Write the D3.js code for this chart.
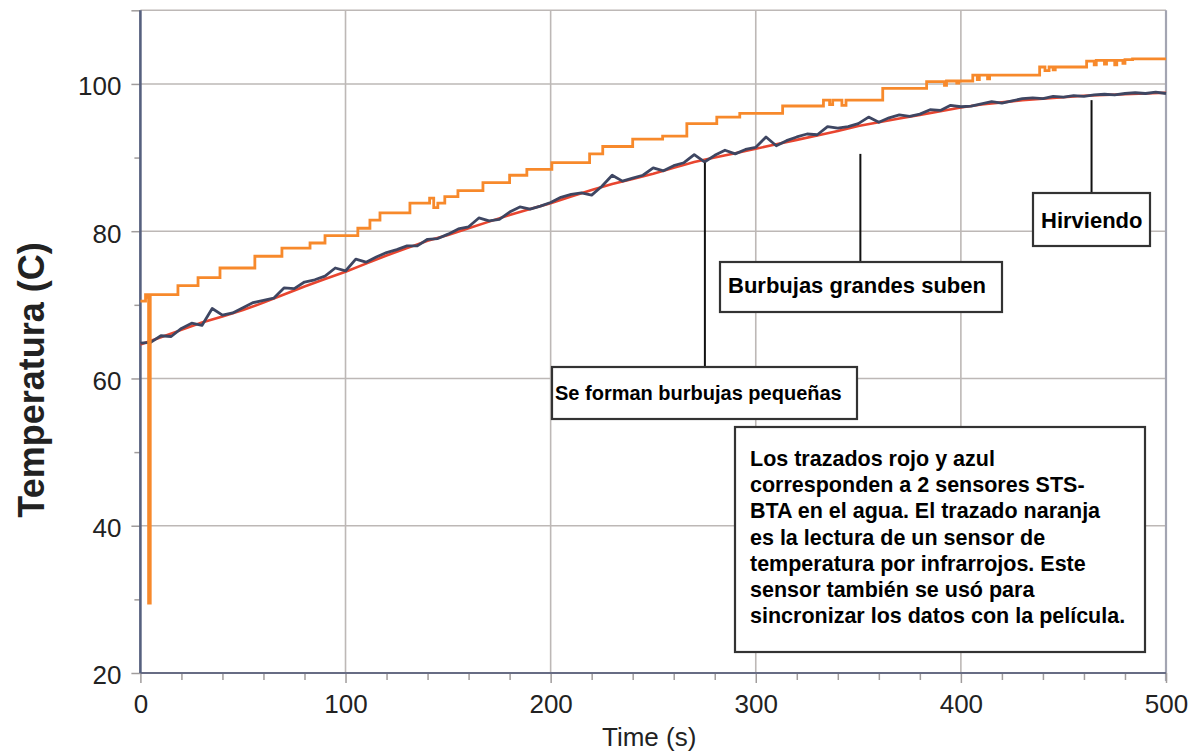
<!DOCTYPE html>
<html>
<head>
<meta charset="utf-8">
<script src="https://cdn.jsdelivr.net/npm/d3@7"></script>
<style>
  body { margin: 0; background: #fff; }
  svg text { font-family: "Liberation Sans", Arial, sans-serif; }
</style>
</head>
<body>
<script>
// blue trace (STS-BTA sensor 1), sampled every 5 s
var blueTime = [0, 5, 10, 15, 20, 25, 30, 35, 40, 45,
  50, 55, 60, 65, 70, 75, 80, 85, 90, 95,
  100, 105, 110, 115, 120, 125, 130, 135, 140, 145,
  150, 155, 160, 165, 170, 175, 180, 185, 190, 195,
  200, 205, 210, 215, 220, 225, 230, 235, 240, 245,
  250, 255, 260, 265, 270, 275, 280, 285, 290, 295,
  300, 305, 310, 315, 320, 325, 330, 335, 340, 345,
  350, 355, 360, 365, 370, 375, 380, 385, 390, 395,
  400, 405, 410, 415, 420, 425, 430, 435, 440, 445,
  450, 455, 460, 465, 470, 475, 480, 485, 490, 495, 500];
var blueTemp = [64.8, 64.9, 65.8, 65.7, 66.8, 67.5, 67.2, 69.5, 68.6, 68.9,
  69.6, 70.3, 70.6, 70.9, 72.3, 72.2, 73.1, 73.4, 73.9, 75.0,
  74.6, 76.2, 75.8, 76.5, 77.1, 77.5, 78.0, 78.0, 78.9, 79.0,
  79.6, 80.3, 80.6, 81.8, 81.4, 81.6, 82.6, 83.3, 83.0, 83.4,
  83.9, 84.6, 85.0, 85.2, 84.9, 86.1, 87.6, 86.8, 87.2, 87.6,
  88.6, 88.2, 88.9, 89.3, 90.4, 89.4, 90.3, 91.0, 90.5, 91.1,
  91.4, 92.8, 91.6, 92.3, 92.8, 93.2, 93.1, 94.2, 94.0, 94.2,
  94.6, 95.5, 94.8, 95.4, 95.8, 95.6, 95.9, 96.5, 96.4, 97.1,
  96.9, 97.0, 97.3, 97.6, 97.4, 97.7, 98.0, 98.1, 98.0, 98.3,
  98.2, 98.4, 98.3, 98.5, 98.6, 98.5, 98.7, 98.8, 98.7, 98.9, 98.7];

// red trace (STS-BTA sensor 2), every 10 s
var redTime = [0, 10, 20, 30, 40, 50, 60, 70, 80, 90,
  100, 110, 120, 130, 140, 150, 160, 170, 180, 190,
  200, 210, 220, 230, 240, 250, 260, 270, 280, 290,
  300, 310, 320, 330, 340, 350, 360, 370, 380, 390,
  400, 410, 420, 430, 440, 450, 460, 470, 480, 490, 500];
var redTemp = [64.6, 65.6, 66.6, 67.6, 68.4, 69.3, 70.3, 71.4, 72.5, 73.5,
  74.5, 75.6, 76.7, 77.7, 78.7, 79.5, 80.4, 81.3, 82.2, 83.0,
  83.8, 84.7, 85.6, 86.4, 87.1, 87.8, 88.6, 89.4, 90.0, 90.6,
  91.2, 91.8, 92.4, 93.0, 93.6, 94.3, 94.8, 95.3, 95.8, 96.3,
  96.8, 97.2, 97.5, 97.8, 98.0, 98.2, 98.4, 98.5, 98.6, 98.7, 98.8];

// orange trace (infrared sensor), step changes
var orangeTime = [0, 2.5, 3.5, 4.0, 4.8, 18.3, 28.1, 38.8, 55.8, 69,
  82.7, 90, 106, 111.9, 116.8, 131.4, 141, 143, 145, 148.4,
  154.8, 167, 180, 188.4, 200.6, 219, 225.4, 240, 254.6, 266.4,
  281, 292.2, 313.1, 333, 336, 337.5, 342, 344, 361.9, 383.3,
  392, 393, 398, 399, 405.8, 408, 409, 413, 414, 438.4,
  441, 443, 445, 446, 461.3, 465, 466, 470, 471, 475,
  476, 479, 480, 483.7, 500];
var orangeTemp = [70.5, 71.4, 71.0, 29.5, 71.4, 72.6, 73.7, 75.0, 76.6, 77.7,
  78.4, 79.4, 80.4, 81.5, 82.5, 83.8, 84.5, 83.2, 83.8, 84.7,
  85.5, 86.6, 87.6, 88.4, 89.3, 90.5, 91.5, 92.5, 92.9, 94.6,
  95.5, 96.0, 97.0, 97.8, 97.2, 97.8, 97.1, 97.8, 99.4, 100.3,
  99.8, 100.4, 100.1, 100.4, 101.2, 100.6, 101.2, 100.7, 101.2, 102.3,
  101.8, 102.3, 101.9, 102.3, 103.1, 102.6, 103.2, 102.7, 103.2, 102.6,
  103.2, 102.8, 103.3, 103.4, 103.4];

var xMajor = [0, 100, 200, 300, 400, 500];
var xMinor = [20, 40, 60, 80, 120, 140, 160, 180, 220, 240, 260, 280,
  320, 340, 360, 380, 420, 440, 460, 480];
var yMajor = [20, 40, 60, 80, 100, 110];
var yMinor = [30, 50, 70, 90];

var noteLines = ["Los trazados rojo y azul",
  "corresponden a 2 sensores STS-",
  "BTA en el agua. El trazado naranja",
  "es la lectura de un sensor de",
  "temperatura por infrarrojos. Este",
  "sensor también se usó para",
  "sincronizar los datos con la película."];

var svgWidth = 1198;
var svgHeight = 752;
var plotLeft = 140.4, plotRight = 1166, plotTop = 10.3, plotBottom = 673;

var svg = d3.select("body")
    .append("svg")
    .attr("width", svgWidth)
    .attr("height", svgHeight);

var xScale = d3.scaleLinear().domain([0, 500]).range([plotLeft, plotRight]);
var yScale = d3.scaleLinear().domain([20, 110]).range([plotBottom, plotTop]);

// grid
var grid = svg.append("g");
grid.selectAll(".vg")
    .data(xMajor.slice(1, 5))
    .enter().append("line")
    .attr("x1", d => xScale(d)).attr("x2", d => xScale(d))
    .attr("y1", plotTop).attr("y2", plotBottom)
    .attr("stroke", "#bdb8b6").attr("stroke-width", 1.6);
grid.selectAll(".hg")
    .data(yMajor.slice(1))
    .enter().append("line")
    .attr("x1", plotLeft).attr("x2", plotRight)
    .attr("y1", d => yScale(d)).attr("y2", d => yScale(d))
    .attr("stroke", "#bdb8b6").attr("stroke-width", 1.6);
// right frame
grid.append("line")
    .attr("x1", xScale(500)).attr("x2", xScale(500))
    .attr("y1", plotTop).attr("y2", plotBottom + 8)
    .attr("stroke", "#a3a5b2").attr("stroke-width", 2.2);

// axes
function styleAxis(g) {
    g.select(".domain").remove();
    g.selectAll(".tick line").attr("stroke", "#a09c9c").attr("stroke-width", 1.5);
    g.selectAll("text").attr("fill", "#222").attr("font-size", "26px")
        .attr("font-family", "'Liberation Sans', Arial, sans-serif");
}

svg.append("g")
    .attr("transform", `translate(0, ${plotBottom})`)
    .call(d3.axisBottom(xScale).tickValues(xMinor).tickSize(7).tickFormat(""))
    .call(styleAxis);
svg.append("g")
    .attr("transform", `translate(0, ${plotBottom})`)
    .call(d3.axisBottom(xScale).tickValues(xMajor).tickSize(10).tickPadding(0))
    .call(styleAxis)
    .call(g => g.selectAll("text").attr("y", 40).attr("dy", null));

svg.append("g")
    .attr("transform", `translate(${plotLeft}, 0)`)
    .call(d3.axisLeft(yScale).tickValues(yMinor).tickSize(6).tickFormat(""))
    .call(styleAxis);
svg.append("g")
    .attr("transform", `translate(${plotLeft}, 0)`)
    .call(d3.axisLeft(yScale).tickValues(yMajor).tickSize(9)
        .tickFormat(d => d === 110 ? "" : d))
    .call(styleAxis)
    .call(g => g.selectAll("text").attr("x", -19).attr("dy", "0.42em"));

// axis lines
svg.append("line")
    .attr("x1", plotLeft).attr("x2", plotRight)
    .attr("y1", plotBottom).attr("y2", plotBottom)
    .attr("stroke", "#676c84").attr("stroke-width", 2);
svg.append("line")
    .attr("x1", plotLeft).attr("x2", plotLeft)
    .attr("y1", plotTop).attr("y2", plotBottom)
    .attr("stroke", "#56607e").attr("stroke-width", 2.6);

// series
var line = d3.line().x(d => xScale(d[0])).y(d => yScale(d[1]));

svg.append("path")
    .datum(d3.zip(redTime, redTemp))
    .attr("d", line)
    .attr("fill", "none")
    .attr("stroke", "#e8452f")
    .attr("stroke-width", 2.6);

svg.append("path")
    .datum(d3.zip(blueTime, blueTemp))
    .attr("d", line)
    .attr("fill", "none")
    .attr("stroke", "#3e4662")
    .attr("stroke-width", 2.8)
    .attr("stroke-linejoin", "round");

svg.append("path")
    .datum(d3.zip(orangeTime, orangeTemp))
    .attr("d", line.curve(d3.curveStepAfter))
    .attr("fill", "none")
    .attr("stroke", "#f7892b")
    .attr("stroke-width", 2.8);

// axis titles
svg.append("text")
    .attr("x", 602).attr("y", 746)
    .attr("font-size", "26px").attr("fill", "#222")
    .text("Time (s)");

svg.append("text")
    .attr("transform", "translate(44, 380) rotate(-90)")
    .attr("text-anchor", "middle")
    .attr("font-size", "36px").attr("font-weight", "bold").attr("fill", "#222")
    .text("Temperatura (C)");

// annotations
function callout(bx, by, bw, bh, lineX, lineTop) {
    svg.append("line")
        .attr("x1", lineX).attr("x2", lineX)
        .attr("y1", lineTop).attr("y2", by)
        .attr("stroke", "#111").attr("stroke-width", 2);
    svg.append("rect")
        .attr("x", bx).attr("y", by).attr("width", bw).attr("height", bh)
        .attr("fill", "#fff").attr("stroke", "#333").attr("stroke-width", 2.2);
}

callout(552, 367, 305, 52, xScale(275.2), yScale(89.3));
svg.append("text").attr("x", 555).attr("y", 400)
    .attr("font-size", "20px").attr("font-weight", "bold").attr("fill", "#000")
    .text("Se forman burbujas pequeñas");

callout(720, 262, 282, 50, xScale(351), yScale(90.5));
svg.append("text").attr("x", 728).attr("y", 293)
    .attr("font-size", "22px").attr("font-weight", "bold").attr("fill", "#000")
    .text("Burbujas grandes suben");

callout(1033, 193, 117, 53, xScale(463.7), yScale(97.8));
svg.append("text").attr("x", 1041).attr("y", 228)
    .attr("font-size", "22px").attr("font-weight", "bold").attr("fill", "#000")
    .text("Hirviendo");

svg.append("rect")
    .attr("x", 735).attr("y", 427).attr("width", 410).attr("height", 225)
    .attr("fill", "#fff").attr("stroke", "#333").attr("stroke-width", 2.2);
svg.append("g").selectAll("text")
    .data(noteLines)
    .enter().append("text")
    .attr("x", 750)
    .attr("y", (d, i) => 466 + i * 26.2)
    .attr("font-size", "21.5px").attr("font-weight", "bold").attr("fill", "#000")
    .text(d => d);
</script>
</body>
</html>
